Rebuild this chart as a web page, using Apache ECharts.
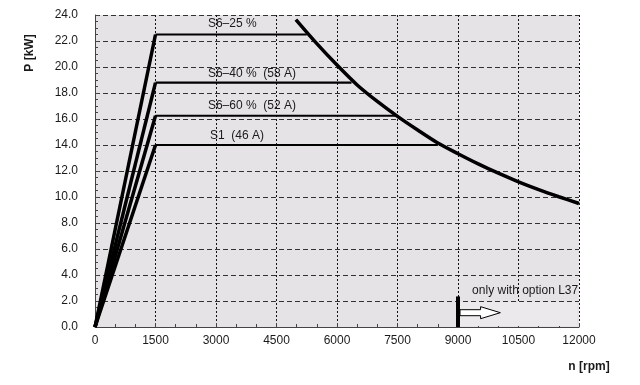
<!DOCTYPE html>
<html>
<head>
<meta charset="UTF-8">
<script src="https://cdn.jsdelivr.net/npm/echarts@6/dist/echarts.min.js"></script>
<style>
  html, body { margin: 0; padding: 0; background: #fff; }
  #main { width: 640px; height: 385px; }
</style>
</head>
<body>
<div id="main"></div>
<script>
// operating curves: linear ramp to base speed, then constant power
const baseSpeed = 1500;
const curveNames = ['S6–25 %', 'S6–40 %  (58 A)', 'S6–60 %  (52 A)', 'S1  (46 A)'];
const curvePower = [22.5, 18.8, 16.25, 14.0];
const curveEndSpeed = [5250, 6360, 7500, 8500];
// label anchor (left edge, text middle) in data units
const labelSpeed = [2800, 2800, 2800, 2850];
const labelPower = [23.3, 19.45, 17.0, 14.75];

// voltage limit curve
const limitSpeed = [4980, 5500, 6000, 6500, 7000, 7500, 8000, 8500, 9000, 9500, 10000, 10500, 11000, 11500, 12000];
const limitPower = [23.65, 21.8, 20.15, 18.62, 17.35, 16.2, 15.15, 14.15, 13.33, 12.55, 11.83, 11.17, 10.57, 10.02, 9.5];

// option L37 marker
const optionSpeed = 9000;
const optionBarTop = 2.35;
const arrowPower = 1.1;
const arrowShaftEnd = 9560;
const arrowTip = 10050;
const optionText = 'only with option L37';

const xTicks = { min: 0, max: 12000, interval: 1500 };
const yTicks = { min: 0, max: 24, interval: 2 };

const font = 'Liberation Sans, Arial, sans-serif';
const series = [];

curvePower.forEach((p, i) => {
  series.push({
    type: 'line', name: curveNames[i] + ' ramp', symbol: 'none', z: 3,
    lineStyle: { color: '#000', width: 3.5 },
    data: [[0, 0], [baseSpeed, p]]
  });
  series.push({
    type: 'line', name: curveNames[i], symbol: 'none', z: 3,
    lineStyle: { color: '#000', width: 2.2 },
    data: [[baseSpeed, p], [curveEndSpeed[i], p]],
    markPoint: {
      symbol: 'circle', symbolSize: 0, silent: true,
      data: [{ coord: [labelSpeed[i], labelPower[i]] }],
      label: {
        show: true, position: 'right', distance: 0, formatter: curveNames[i],
        color: '#1a1a1a', fontSize: 12, fontFamily: font
      }
    }
  });
});

series.push({
  type: 'line', name: 'limit', symbol: 'none', smooth: 0.3, z: 4,
  lineStyle: { color: '#000', width: 3.5 },
  data: limitSpeed.map((n, i) => [n, limitPower[i]])
});

series.push({
  type: 'line', name: 'option', symbol: 'none', z: 5,
  lineStyle: { color: '#000', width: 4 },
  data: [[optionSpeed, 0], [optionSpeed, optionBarTop]],
  markArea: {
    silent: true,
    itemStyle: { color: '#ebe9eb' },
    data: [[{ coord: [optionSpeed, 0.08] }, { coord: [11950, 1.92] }]]
  }
});

const chart = echarts.init(document.getElementById('main'), null, { renderer: 'canvas' });
chart.setOption({
  animation: false,
  backgroundColor: '#fff',
  grid: {
    left: 95, right: 61, top: 15, bottom: 58,
    show: true, backgroundColor: '#e6e3e6', borderWidth: 0
  },
  xAxis: {
    type: 'value', min: xTicks.min, max: xTicks.max, interval: xTicks.interval,
    axisLine: { lineStyle: { color: '#444', width: 1 } },
    axisTick: { inside: true, length: 4, lineStyle: { color: '#444' } },
    minorTick: { show: true, splitNumber: 3, length: 3, lineStyle: { color: '#444' } },
    axisLabel: {
      color: '#1a1a1a', fontSize: 12, fontFamily: font, margin: 8,
      formatter: v => String(v)
    },
    splitLine: { show: true, lineStyle: { color: '#111', type: [2, 2], width: 1 } }
  },
  yAxis: {
    type: 'value', min: yTicks.min, max: yTicks.max, interval: yTicks.interval,
    axisLine: { show: true, lineStyle: { color: '#444', width: 1 } },
    axisTick: { show: true, inside: true, length: 4, lineStyle: { color: '#444' } },
    minorTick: { show: true, splitNumber: 4, length: 3, lineStyle: { color: '#444' } },
    axisLabel: {
      color: '#1a1a1a', fontSize: 12, fontFamily: font, margin: 17,
      formatter: v => v.toFixed(1)
    },
    splitLine: { show: true, lineStyle: { color: '#333', type: [5, 3], width: 1 } }
  },
  series: series
});

// arrow and annotation placed through the chart's own scales
const px = (x, y) => chart.convertToPixel({ gridIndex: 0 }, [x, y]);
const tail = px(optionSpeed, arrowPower);
const shaftEnd = px(arrowShaftEnd, arrowPower);
const tip = px(arrowTip, arrowPower);
const textPos = px(9350, 2.75);

chart.setOption({
  graphic: [
    {
      type: 'polygon', z: 10,
      shape: {
        points: [
          [tail[0] + 2, tail[1] - 3], [shaftEnd[0], tail[1] - 3], [shaftEnd[0], tail[1] - 6],
          [tip[0], tail[1]], [shaftEnd[0], tail[1] + 6], [shaftEnd[0], tail[1] + 3],
          [tail[0] + 2, tail[1] + 3]
        ]
      },
      style: { fill: '#fff', stroke: '#000', lineWidth: 1 }
    },
    {
      type: 'text', z: 10, left: textPos[0], top: textPos[1] - 7,
      style: { text: optionText, fill: '#1a1a1a', font: '12px ' + font }
    },
    {
      type: 'text', z: 10, rotation: Math.PI / 2, x: 30, y: 53,
      style: {
        text: 'P [kW]', fill: '#1a1a1a', font: 'bold 12px ' + font,
        align: 'center', verticalAlign: 'middle'
      }
    },
    {
      type: 'text', z: 10, x: 589, y: 367,
      style: {
        text: 'n [rpm]', fill: '#1a1a1a', font: 'bold 12px ' + font,
        align: 'center', verticalAlign: 'middle'
      }
    }
  ]
});
</script>
</body>
</html>
